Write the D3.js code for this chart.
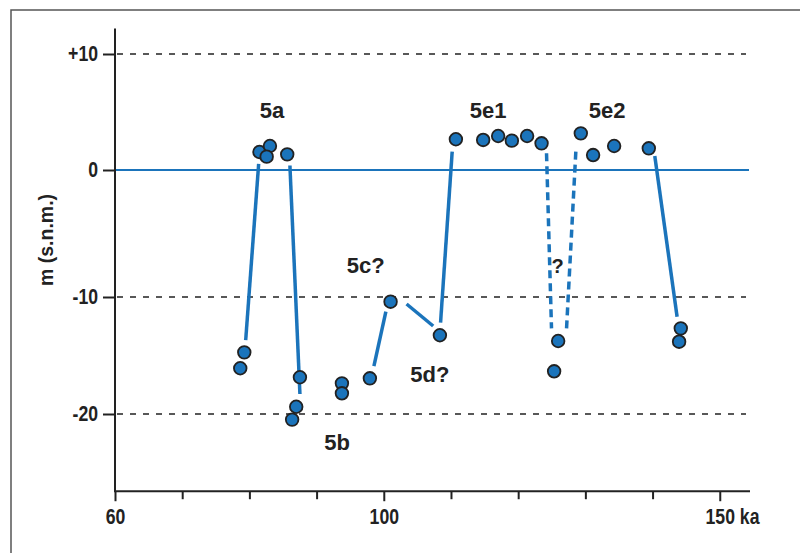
<!DOCTYPE html>
<html>
<head>
<meta charset="utf-8">
<script src="https://cdn.jsdelivr.net/npm/d3@7"></script>
<style>
  body { margin: 0; background: #fff; }
  svg { display: block; }
  .tick text { font-family: 'Liberation Sans', Arial, sans-serif; font-weight: bold; font-size: 21.5px; fill: #222; }
  .lbl { font-family: 'Liberation Sans', Arial, sans-serif; font-weight: bold; fill: #222; }
</style>
</head>
<body>
<div id="chart"></div>
<script>
// sea level points (age ka, level m s.n.m.)
var pointAge   = [81.5, 83.06, 82.57, 85.63, 79.24, 78.64, 87.52, 86.97, 86.36, 93.77, 93.77, 97.93, 101.01, 108.35,
                  110.73, 114.79, 117.02, 119.06, 121.33, 123.48, 129.32, 131.15, 134.28, 139.44,
                  125.95, 125.35, 144.2, 143.95];
var pointLevel = [1.55, 2.07, 1.15, 1.35, -14.73, -16.09, -16.86, -19.38, -20.48, -17.38, -18.23, -16.95, -10.4, -13.27,
                  2.65, 2.59, 2.93, 2.53, 2.93, 2.3, 3.16, 1.29, 2.07, 1.87,
                  -13.76, -16.35, -12.68, -13.82];

// connecting segments [age1, level1, age2, level2]
var solidLines = [
  [81.38, 0.52, 79.45, -13.68],
  [86.03, 0.39, 87.52, -18.29],
  [98.53, -15.9, 100.31, -11.26],
  [103.39, -10.6, 107.35, -12.48],
  [108.45, -12.2, 110.18, 1.58],
  [140.33, 1.21, 143.65, -11.68]
];
var dashedLines = [
  [124.22, 1.44, 124.96, -12.68],
  [128.58, 1.58, 127.2, -12.68]
];

var stageLabels = ["5a", "5e1", "5e2", "5c?", "5d?", "5b", "?"];
var labelAge    = [83.36, 115.53, 133.24, 97.31, 106.86, 93.06, 125.86];
var labelLevel  = [4.48, 4.48, 4.48, -8.13, -17.24, -23.08, -8.13];

var xTicks = [60, 70, 80, 90, 100, 110, 120, 130, 140, 150];
var xLabels = {60: "60", 100: "100", 150: "150 ka"};
var yTicks = [10, 0, -10, -20];
var yLabels = ["+10", "0", "-10", "-20"];
var dashLevels = [10, -10, -20];

var W = 800, H = 553;
var blue = "#1b74bb";
var narrow = 0.82; // tick labels are set in a condensed face

var svg = d3.select("#chart")
  .append("svg")
    .attr("width", W)
    .attr("height", H);

// frame
svg.append("path")
  .attr("d", "M11,553 L11,10 L800,10")
  .attr("fill", "none")
  .attr("stroke", "#555")
  .attr("stroke-width", 1.5);

var x = d3.scaleLinear()
  .domain([60, 154.5])
  .range([115, 750]);

// original figure is hand drawn, gridlines are not exactly evenly spaced
var y = d3.scaleLinear()
  .domain([-20, -10, 0, 10])
  .range([414, 297, 170, 54]);

var yMin = -26.6, yMax = 12.2;

// dashed gridlines
svg.append("g")
  .selectAll("line")
  .data(dashLevels)
  .enter()
  .append("line")
    .attr("x1", x(60) + 2)
    .attr("x2", 746)
    .attr("y1", function (d) { return y(d); })
    .attr("y2", function (d) { return y(d); })
    .attr("stroke", "#222")
    .attr("stroke-width", 1.6)
    .attr("stroke-dasharray", "6,7");

// zero line
svg.append("line")
  .attr("x1", x(60))
  .attr("x2", 749)
  .attr("y1", y(0))
  .attr("y2", y(0))
  .attr("stroke", blue)
  .attr("stroke-width", 2);

// Y axis
var yAxis = svg.append("g")
  .attr("transform", "translate(" + x(60) + ",0)")
  .call(d3.axisLeft(y)
    .tickValues(yTicks)
    .tickSize(12)
    .tickPadding(5)
    .tickFormat(function (d, i) { return yLabels[i]; }));
yAxis.select(".domain").remove();
yAxis.selectAll(".tick line").attr("stroke", "#222").attr("stroke-width", 2);
yAxis.selectAll(".tick text")
  .attr("x", -17 / narrow)
  .attr("transform", "scale(" + narrow + ",1)");
yAxis.append("line")
  .attr("y1", y(yMax))
  .attr("y2", y(yMin))
  .attr("stroke", "#222")
  .attr("stroke-width", 2);

// X axis
var xAxis = svg.append("g")
  .attr("transform", "translate(0," + y(yMin) + ")")
  .call(d3.axisBottom(x)
    .tickValues(xTicks)
    .tickSize(8)
    .tickPadding(10)
    .tickFormat(function (d) { return xLabels[d] || ""; }));
xAxis.select(".domain").remove();
xAxis.selectAll(".tick line")
  .attr("stroke", "#222")
  .attr("stroke-width", 2)
  .attr("y2", function (d) { return xLabels[d] ? 10 : 8; });
xAxis.selectAll(".tick text")
  .attr("transform", "scale(" + narrow + ",1)");
xAxis.append("line")
  .attr("x1", x(60) - 1)
  .attr("x2", x(154.5))
  .attr("stroke", "#222")
  .attr("stroke-width", 2);

// "150 ka": keep the number centred on its tick
xAxis.selectAll(".tick text")
  .filter(function (d) { return d === 150; })
  .each(function () {
    var num = this.getSubStringLength(0, 3);
    d3.select(this).attr("text-anchor", "start").attr("x", -num / 2);
  });

// Y title
svg.append("text")
  .attr("class", "lbl")
  .attr("transform", "translate(53,240) rotate(-90)")
  .attr("text-anchor", "middle")
  .style("font-size", "19.5px")
  .text("m (s.n.m.)");

// connecting lines
svg.append("g")
  .selectAll("line")
  .data(solidLines)
  .enter()
  .append("line")
    .attr("x1", function (d) { return x(d[0]); })
    .attr("y1", function (d) { return y(d[1]); })
    .attr("x2", function (d) { return x(d[2]); })
    .attr("y2", function (d) { return y(d[3]); })
    .attr("stroke", blue)
    .attr("stroke-width", 3.5);

svg.append("g")
  .selectAll("line")
  .data(dashedLines)
  .enter()
  .append("line")
    .attr("x1", function (d) { return x(d[0]); })
    .attr("y1", function (d) { return y(d[1]); })
    .attr("x2", function (d) { return x(d[2]); })
    .attr("y2", function (d) { return y(d[3]); })
    .attr("stroke", blue)
    .attr("stroke-width", 3.5)
    .attr("stroke-dasharray", "8,5");

// points
svg.append("g")
  .selectAll("circle")
  .data(d3.range(pointAge.length))
  .enter()
  .append("circle")
    .attr("cx", function (i) { return x(pointAge[i]); })
    .attr("cy", function (i) { return y(pointLevel[i]); })
    .attr("r", 6.3)
    .attr("fill", blue)
    .attr("stroke", "#222")
    .attr("stroke-width", 1.8);

// stage labels
svg.append("g")
  .selectAll("text")
  .data(stageLabels)
  .enter()
  .append("text")
    .attr("class", "lbl")
    .attr("x", function (d, i) { return x(labelAge[i]); })
    .attr("y", function (d, i) { return y(labelLevel[i]); })
    .attr("text-anchor", "middle")
    .style("font-size", function (d) { return d === "?" ? "20px" : "22px"; })
    .text(function (d) { return d; });
</script>
</body>
</html>
